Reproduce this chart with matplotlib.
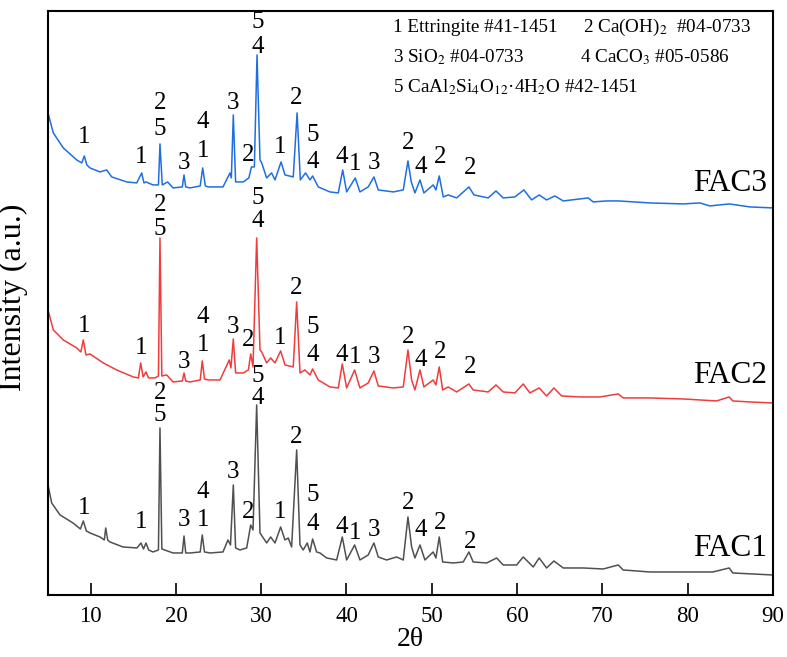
import matplotlib
matplotlib.use("Agg")
import matplotlib.pyplot as plt

plt.rcParams["font.family"] = ["Liberation Serif", "DejaVu Serif"]
plt.rcParams["mathtext.fontset"] = "stix"

# ---------- data (2theta, intensity a.u.) ----------
FAC1_X = [5.00, 5.43, 6.41, 7.93, 8.80, 9.14, 9.50, 9.92, 11.10, 11.60, 11.77, 12.00, 12.27,
          13.79, 15.43, 15.90, 16.20, 16.49, 16.80, 17.31, 17.95, 18.13, 18.35, 19.66, 20.75,
          20.95, 21.15, 21.65, 22.85, 23.09, 23.35, 23.99, 25.52, 26.10, 26.40, 26.73, 27.00,
          27.51, 28.30, 28.77, 29.04, 29.47, 29.86, 30.64, 31.11, 31.62, 32.28, 32.79, 33.17,
          33.57, 34.16, 34.55, 34.93, 35.40, 35.72, 36.03, 36.50, 36.89, 37.68, 38.85, 39.51,
          40.02, 40.96, 41.58, 42.55, 43.22, 43.73, 44.71, 45.88, 46.66, 47.21, 47.64, 48.03,
          48.62, 49.20, 50.17, 50.49, 50.88, 51.28, 52.52, 53.69, 54.36, 54.86, 56.44, 57.61,
          58.38, 59.95, 60.73, 61.90, 62.60, 63.47, 64.33, 65.42, 67.76, 70.11, 71.87, 72.45,
          75.58, 79.49, 82.97, 84.88, 85.31, 90.00]
FAC1_Y = [110, 92, 80, 72, 66, 74, 64, 62, 58, 55, 67, 55, 53,
          48, 47, 52, 46, 52, 45, 43, 45, 167, 46, 42, 42,
          59, 42, 42, 43, 60, 43, 42, 43, 55, 50, 110, 47,
          45, 47, 70, 65, 190, 62, 52, 58, 52, 68, 55, 57,
          48, 145, 50, 45, 52, 43, 56, 43, 42, 37, 35, 58,
          35, 50, 35, 40, 52, 38, 35, 38, 35, 78, 48, 37,
          50, 35, 43, 37, 58, 33, 32, 33, 43, 33, 32, 37,
          30, 30, 38, 28, 37, 27, 34, 27, 27, 26, 30, 25,
          23, 23, 23, 27, 22, 20]

FAC2_X = [5.00, 5.62, 6.79, 8.37, 8.85, 9.14, 9.45, 9.92, 11.48, 13.05, 15.00, 15.60, 15.87,
          16.15, 16.49, 16.80, 17.55, 17.95, 18.13, 18.35, 18.92, 19.66, 20.75, 20.95, 21.15,
          21.65, 22.85, 23.09, 23.35, 23.79, 25.17, 26.26, 26.45, 26.73, 27.00, 27.90, 28.50,
          28.77, 29.04, 29.47, 29.86, 30.06, 30.64, 31.11, 31.62, 32.28, 32.79, 33.76, 34.16,
          34.55, 35.13, 35.72, 36.03, 36.69, 38.06, 39.04, 39.51, 40.02, 40.96, 41.58, 42.55,
          43.22, 43.73, 45.49, 46.66, 47.21, 47.64, 48.03, 48.62, 49.08, 50.17, 50.49, 50.88,
          51.28, 51.93, 52.92, 54.36, 54.86, 56.62, 57.53, 58.38, 59.75, 60.73, 61.51, 62.60,
          63.47, 64.33, 65.23, 67.37, 69.72, 71.87, 72.45, 75.58, 79.49, 83.40, 84.88, 85.31,
          87.31, 90.00]
FAC2_Y = [285, 265, 255, 247, 243, 255, 240, 241, 232, 225, 218, 217, 232,
          218, 223, 217, 217, 219, 357, 219, 220, 213, 214, 222, 214,
          213, 215, 234, 216, 215, 215, 235, 227, 256, 222, 222, 225,
          241, 228, 357, 245, 243, 232, 237, 232, 244, 230, 228, 293,
          222, 225, 220, 226, 215, 208, 207, 231, 207, 225, 207, 212,
          224, 209, 207, 208, 245, 215, 205, 225, 208, 215, 210, 228,
          205, 208, 203, 211, 205, 203, 210, 203, 202, 211, 202, 207,
          199, 207, 199, 198, 198, 201, 197, 197, 196, 194, 198, 194,
          193, 192]

FAC3_X = [5.00, 5.62, 6.79, 8.37, 8.95, 9.26, 9.55, 9.92, 11.10, 11.88, 12.47, 14.23, 15.40,
          15.99, 16.25, 16.49, 17.31, 17.95, 18.13, 18.40, 19.03, 19.66, 20.75, 20.95, 21.15,
          21.65, 22.85, 23.14, 23.45, 23.79, 25.52, 26.34, 26.50, 26.73, 27.00, 27.90, 28.55,
          28.86, 29.20, 29.51, 29.86, 30.06, 30.64, 31.22, 31.62, 32.33, 32.79, 33.76, 34.21,
          34.59, 35.20, 35.72, 36.03, 36.69, 38.06, 39.04, 39.56, 40.02, 41.03, 41.58, 42.55,
          43.22, 43.73, 45.49, 46.66, 47.21, 47.60, 48.03, 48.62, 49.08, 50.17, 50.49, 50.88,
          51.35, 51.93, 52.92, 54.36, 54.95, 56.62, 57.53, 58.38, 59.75, 60.81, 61.71, 62.60,
          63.47, 64.44, 65.42, 68.35, 68.93, 70.50, 71.87, 75.58, 79.49, 81.44, 82.62, 84.88,
          87.31, 90.00]
FAC3_Y = [482, 462, 447, 435, 432, 439, 430, 427, 423, 425, 418, 413, 412,
          422, 412, 413, 410, 410, 451, 410, 413, 407, 408, 420, 408,
          407, 409, 427, 409, 408, 408, 422, 417, 480, 413, 413, 417,
          428, 428, 540, 435, 432, 417, 422, 415, 433, 420, 418, 482,
          415, 422, 415, 419, 408, 403, 402, 425, 403, 417, 403, 408,
          418, 405, 403, 405, 434, 413, 402, 415, 402, 410, 405, 419,
          398, 400, 397, 408, 400, 397, 404, 397, 398, 405, 395, 400,
          395, 399, 394, 397, 393, 394, 394, 392, 391, 392, 389, 391,
          388, 387]

# peak marks (phase number), shared 2theta positions
MARK_X = [9.2, 15.9, 18.1, 18.1, 21.0, 23.15, 23.15, 26.75, 28.5, 29.55, 29.55, 32.2,
          34.15, 36.0, 36.0, 39.45, 41.0, 43.25, 47.25, 48.7, 50.95, 54.5]
MARK_T = ["1", "1", "5", "2", "3", "1", "4", "3", "2", "4", "5", "1",
          "2", "4", "5", "4", "1", "3", "2", "4", "2", "2"]
FAC1_MARK_Y = [87, 73, 180, 202, 75, 75, 103, 123, 83, 197, 219, 83,
               158, 71, 100, 68, 62, 65, 92, 65, 72, 53]
FAC2_MARK_Y = [269, 247, 366, 390, 233, 250, 278, 268, 255, 374, 397, 257,
               307, 240, 268, 240, 238, 238, 258, 235, 243, 228]
FAC3_MARK_Y = [458, 438, 466, 492, 432, 444, 473, 492, 440, 548, 573, 448,
               497, 433, 460, 438, 431, 432, 452, 428, 438, 427]

SERIES = [
    ("FAC1", FAC1_X, FAC1_Y, FAC1_MARK_Y, "#505050", 46),
    ("FAC2", FAC2_X, FAC2_Y, FAC2_MARK_Y, "#f03c3c", 219),
    ("FAC3", FAC3_X, FAC3_Y, FAC3_MARK_Y, "#1f6fe0", 411),
]

PHASES = [
    ("1 Ettringite #41-1451", 0.476, 0.971),
    ("2 Ca(OH)$_2$  #04-0733", 0.738, 0.971),
    ("3 SiO$_2$ #04-0733", 0.476, 0.920),
    ("4 CaCO$_3$ #05-0586", 0.734, 0.920),
    ("5 CaAl$_2$Si$_4$O$_{12}$·4H$_2$O #42-1451", 0.476, 0.870),
]

# ---------- plot ----------
fig = plt.figure(figsize=(7.87, 6.57), dpi=100)
ax = fig.add_axes([0.061, 0.0944, 0.921, 0.889])

for name, xs, ys, marks, color, label_y in SERIES:
    ax.plot(xs, ys, color=color, lw=1.1)
    for mx, mt, my in zip(MARK_X, MARK_T, marks):
        ax.text(mx, my, mt, ha="center", va="center", fontsize=18)
    ax.text(89.3, label_y, name, ha="right", va="center", fontsize=22.5)

for txt, tx, ty in PHASES:
    ax.text(tx, ty, txt, transform=ax.transAxes, ha="left", va="center", fontsize=13.8)

ax.set_xlim(5, 90)
ax.set_ylim(0, 584)
ax.set_xticks(range(10, 91, 10))
ax.set_yticks([])
ax.tick_params(axis="x", direction="in", length=9, width=1.2, labelsize=16.5, pad=8)
for sp in ax.spines.values():
    sp.set_linewidth(1.5)

ax.set_xlabel("2θ", fontsize=20, labelpad=0)
ax.set_ylabel("Intensity (a.u.)", fontsize=23, labelpad=2)
ax.yaxis.set_label_coords(-0.028, 0.51)

fig.savefig("out.png", dpi=100)
